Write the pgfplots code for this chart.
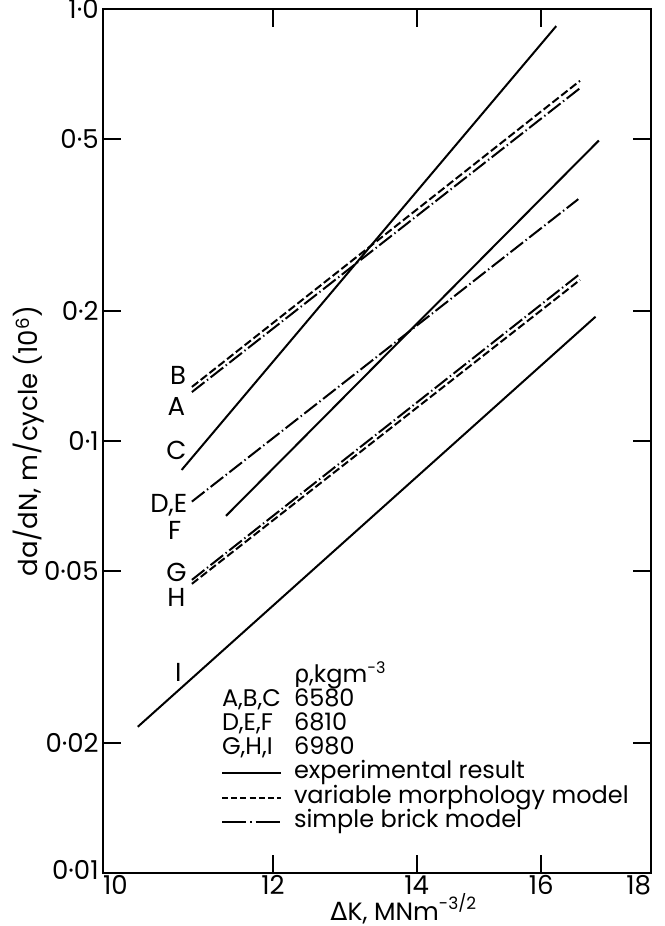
\documentclass[border=0pt]{standalone}
\usepackage{fontspec}
\setmainfont{Poppins}
\newfontfamily\gr{DejaVu Sans}
\usepackage{pgfplots}
\pgfplotsset{compat=1.18}
\begin{document}
\fontsize{12pt}{14pt}\selectfont
\begin{tikzpicture}
\useasboundingbox (-51.5pt,-26.5pt) rectangle (280.5pt,436.5pt);
\begin{axis}[
  scale only axis, width=274pt, height=432pt,
  xmode=log, ymode=log,
  xmin=10, xmax=18, ymin=0.01, ymax=1,
  xtick={10,12,14,16,18},
  xticklabels={\makebox[0pt][l]{10},12,14,16,\makebox[0pt][r]{18}},
  ytick={0.01,0.02,0.05,0.1,0.2,0.5,1},
  yticklabels={\raisebox{3pt}{0·01},0·02,0·05,0·1,0·2,0·5,\raisebox{-3pt}{1·0}},
  minor xtick={}, minor ytick={},
  /pgf/number format/assume math mode=true,
  tick align=inside, major tick length=9pt,
  axis line style={line width=1.3pt},
  every tick/.style={line width=1pt,black},
  tick label style={font=\fontsize{13pt}{15pt}\selectfont},
  xticklabel style={inner sep=1pt},
  yticklabel style={inner sep=2pt},
  every axis y label/.style={at={(axis description cs:-0.135,0.5)}, rotate=90, anchor=center, font=\fontsize{13pt}{15pt}\selectfont},
  every axis x label/.style={at={(axis description cs:0.548,0)}, anchor=base, inner sep=0pt, yshift=-23.5pt, font=\fontsize{12.5pt}{14pt}\selectfont},
  ylabel={da/dN, m/cycle (10\textsuperscript{6})},
  xlabel={{\gr Δ}K, MNm\raisebox{0.8ex}{\fontsize{8.5pt}{9pt}\selectfont-3/2}},
  legend cell align=left,
  legend style={at={(axis description cs:0.2153,0.2407)}, anchor=north west,
    draw=none, fill=none, inner sep=0pt, outer sep=0pt,
    row sep=0.6pt, column sep=6pt, cells={anchor=west},
    nodes={inner sep=0pt, text height=8.5pt, text depth=3pt}},
]
% A,B,C  (6580)
\addplot[forget plot, black, line width=1pt] coordinates {(10.88,0.0857) (16.26,0.913)};
\addplot[forget plot, black, line width=1pt, dash pattern=on 4pt off 1.6pt] coordinates {(11.0,0.1334) (16.68,0.682)};
\addplot[forget plot, black, line width=1pt, dash pattern=on 8pt off 1.6pt on 0.7pt off 1.6pt] coordinates {(11.0,0.1298) (16.70,0.659)};
% D,E,F  (6810)
\addplot[forget plot, black, line width=1pt] coordinates {(11.41,0.0671) (17.02,0.496)};
\addplot[forget plot, black, line width=1pt, dash pattern=on 8pt off 1.6pt on 0.7pt off 1.6pt] coordinates {(11.0,0.0724) (16.65,0.363)};
% G,H,I  (6980)
\addplot[forget plot, black, line width=1pt, dash pattern=on 8pt off 1.6pt on 0.7pt off 1.6pt] coordinates {(11.0,0.0477) (16.65,0.242)};
\addplot[forget plot, black, line width=1pt, dash pattern=on 4pt off 1.6pt] coordinates {(11.0,0.0467) (16.68,0.236)};
\addplot[forget plot, black, line width=1pt] coordinates {(10.38,0.0218) (16.96,0.194)};

\begin{scope}[font=\fontsize{13pt}{15pt}\selectfont]
\node at (axis cs:10.84,0.142) {B};
\node at (axis cs:10.82,0.1199) {A};
\node at (axis cs:10.82,0.0953) {C};
\node[anchor=east,inner sep=0pt] at (axis cs:10.95,0.0711) {D,E};
\node at (axis cs:10.80,0.0622) {F};
\node at (axis cs:10.82,0.0497) {G};
\node at (axis cs:10.82,0.0435) {H};
\node at (axis cs:10.84,0.0292) {I};
\end{scope}

\addlegendimage{empty legend}
\addlegendentry{{\gr ρ},kgm\textsuperscript{-3}}
\addlegendimage{legend image code/.code={\node[anchor=west] at (0pt,0pt) {A,B,C};}}
\addlegendentry{6580}
\addlegendimage{legend image code/.code={\node[anchor=west] at (0pt,0pt) {D,E,F};}}
\addlegendentry{6810}
\addlegendimage{legend image code/.code={\node[anchor=west] at (0pt,0pt) {G,H,I};}}
\addlegendentry{6980}
\addlegendimage{legend image code/.code={\draw[black,line width=1pt] (0pt,0pt) -- (29.5pt,0pt);}}
\addlegendentry{experimental result}
\addlegendimage{legend image code/.code={\draw[black,line width=1pt,dash pattern=on 3pt off 1.6pt] (0pt,0pt) -- (29.5pt,0pt);}}
\addlegendentry{variable morphology model}
\addlegendimage{legend image code/.code={\draw[black,line width=1pt,dash pattern=on 12pt off 2pt on 0.8pt off 2pt] (0pt,0pt) -- (29.5pt,0pt);}}
\addlegendentry{simple brick model}
\end{axis}
\end{tikzpicture}
\end{document}
